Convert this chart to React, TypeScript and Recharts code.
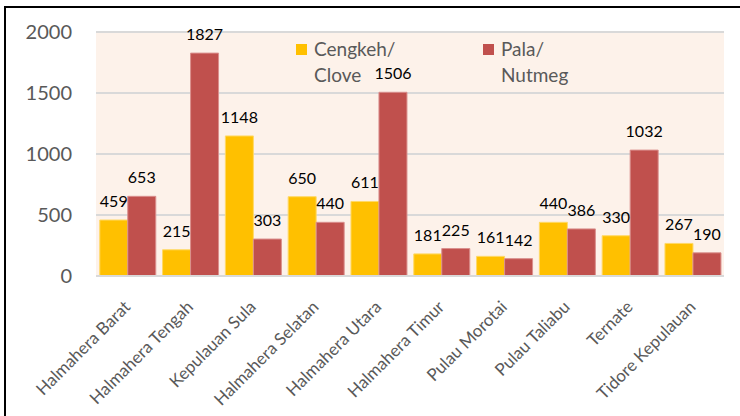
import React from 'react';
import { BarChart, Bar, XAxis, YAxis, CartesianGrid, LabelList } from 'recharts';

const regions = [
  'Halmahera Barat',
  'Halmahera Tengah',
  'Kepulauan Sula',
  'Halmahera Selatan',
  'Halmahera Utara',
  'Halmahera Timur',
  'Pulau Morotai',
  'Pulau Taliabu',
  'Ternate',
  'Tidore Kepulauan',
];
const clove = [459, 215, 1148, 650, 611, 181, 161, 440, 330, 267];
const nutmeg = [653, 1827, 303, 440, 1506, 225, 142, 386, 1032, 190];
const yTicks = [0, 500, 1000, 1500, 2000];

const data = regions.map((name, i) => ({ name, clove: clove[i], nutmeg: nutmeg[i] }));

const FONT = 'Lato, "Open Sans", sans-serif';

const RotatedTick = ({ x, y, payload }: any) => (
  <text
    x={x + 4}
    y={y + 24}
    transform={`rotate(-45, ${x + 4}, ${y + 24})`}
    textAnchor="end"
    fill="#595959"
    fontSize={17}
    fontFamily={FONT}
  >
    {payload.value}
  </text>
);

const LegendItem = ({ left, color, lines }: { left: number; color: string; lines: string[] }) => (
  <div style={{ position: 'absolute', left, top: 40, display: 'flex' }}>
    <div style={{ width: 11, height: 11, background: color, marginTop: 4, marginRight: 7 }} />
    <div style={{ fontSize: 19, lineHeight: '26px', color: '#595959', fontFamily: FONT, marginTop: -4 }}>
      {lines.map((l) => (
        <div key={l}>{l}</div>
      ))}
    </div>
  </div>
);

export default function App() {
  return (
    <div style={{ position: 'absolute', left: 0, top: 0, width: 740, height: 416, background: '#fff', overflow: 'hidden' }}>
      <div
        style={{
          position: 'absolute',
          left: 4,
          top: 6,
          width: 740,
          height: 420,
          borderTop: '2px solid #000',
          borderLeft: '2px solid #000',
        }}
      />
      <BarChart
        width={740}
        height={416}
        data={data}
        margin={{ top: 32, right: 16, left: 0, bottom: 0 }}
        barCategoryGap="6%"
        barGap={0}
      >
        <CartesianGrid vertical={false} fill="#FDF2EA" stroke="#D9D9D9" strokeWidth={2} />
        <XAxis
          dataKey="name"
          height={140}
          interval={0}
          tick={<RotatedTick />}
          tickLine={false}
          axisLine={{ stroke: '#D9D9D9', strokeWidth: 2 }}
        />
        <YAxis
          width={96}
          domain={[0, 2000]}
          ticks={yTicks}
          tickLine={false}
          axisLine={false}
          tickSize={0}
          tickMargin={24}
          tick={{ fill: '#595959', fontSize: 20, fontFamily: FONT }}
        />
        <Bar dataKey="clove" fill="#FFC000" stroke="#FFD966" strokeWidth={1} isAnimationActive={false}>
          <LabelList dataKey="clove" position="top" offset={13} fill="#000" fontSize={16} fontFamily={FONT} />
        </Bar>
        <Bar dataKey="nutmeg" fill="#C0504D" stroke="#DA8F8D" strokeWidth={1} isAnimationActive={false}>
          <LabelList dataKey="nutmeg" position="top" offset={13} fill="#000" fontSize={16} fontFamily={FONT} />
        </Bar>
      </BarChart>
      <LegendItem left={296} color="#FFC000" lines={['Cengkeh/', 'Clove']} />
      <LegendItem left={483} color="#C0504D" lines={['Pala/', 'Nutmeg']} />
    </div>
  );
}
